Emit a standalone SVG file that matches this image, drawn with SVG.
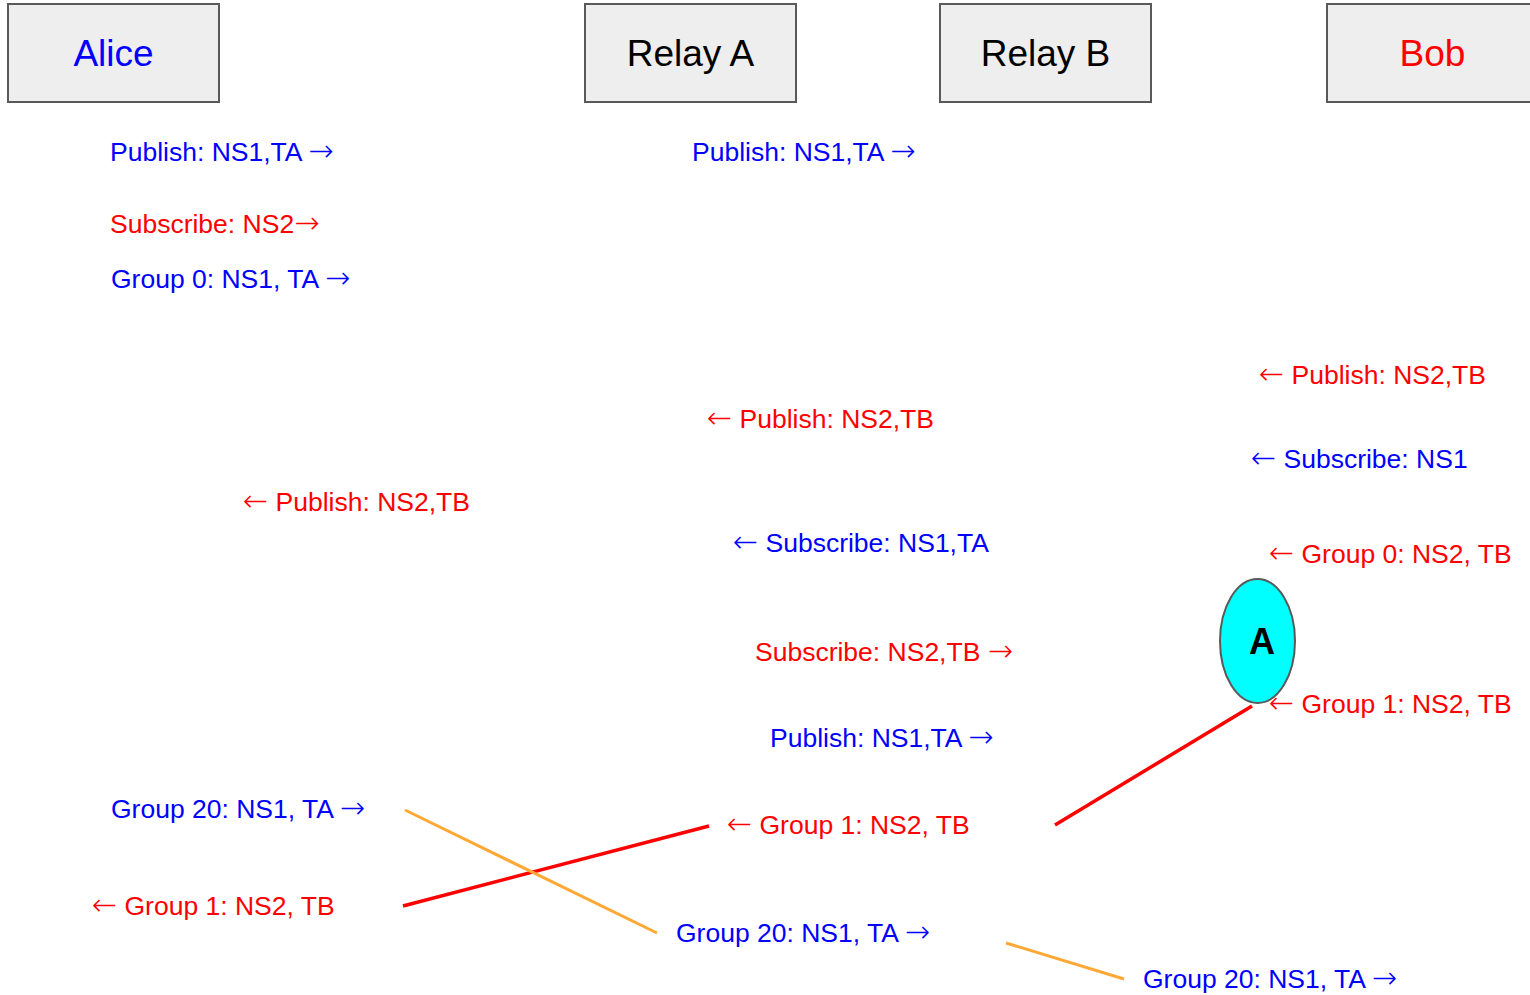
<svg xmlns="http://www.w3.org/2000/svg" width="1530" height="995" viewBox="0 0 1530 995">
<style>
.box{fill:#eeeeee;stroke:#595959;stroke-width:2}
.h{font-family:"Liberation Sans",Arial,sans-serif;font-size:37px;text-anchor:middle}
.t{font-family:"Liberation Sans",Arial,sans-serif;font-size:26.5px}
.ar{font-family:"DejaVu Sans",sans-serif;font-weight:200;font-size:30px}
.b{fill:#0000ff}
.r{fill:#ff0000}
.lr{stroke:#ff0000;stroke-width:3.5;fill:none}
.lo{stroke:#ffa836;stroke-width:3;fill:none}
</style>
<rect width="1530" height="995" fill="#ffffff"/>
<g id="alice"><rect class="box" x="8" y="4" width="211" height="98"/><text class="h b" x="113.5" y="66">Alice</text></g>
<g id="relayA"><rect class="box" x="585" y="4" width="211" height="98"/><text class="h" x="690.5" y="66" fill="#000">Relay A</text></g>
<g id="relayB"><rect class="box" x="940" y="4" width="211" height="98"/><text class="h" x="1045.5" y="66" fill="#000">Relay B</text></g>
<g id="bob"><rect class="box" x="1327" y="4" width="211" height="98"/><text class="h r" x="1432.5" y="66">Bob</text></g>
<g id="nodeA"><ellipse cx="1257.5" cy="641" rx="37.5" ry="62" fill="#00ffff" stroke="#595959" stroke-width="2"/><text x="1262" y="654" font-family="Liberation Sans,Arial,sans-serif" font-size="36" font-weight="bold" text-anchor="middle" fill="#000">A</text></g>
<g id="connectors">
<line class="lr" x1="1252" y1="706" x2="1055" y2="825"/>
<line class="lr" x1="709" y1="826" x2="403" y2="906"/>
<line class="lo" x1="405" y1="810" x2="657" y2="933"/>
<line class="lo" x1="1006" y1="943" x2="1124" y2="979"/>
</g>
<g id="labels">
<text class="t b" x="110" y="161">Publish: NS1,TA <tspan class="ar">→</tspan></text>
<text class="t r" x="110" y="233">Subscribe: NS2<tspan class="ar">→</tspan></text>
<text class="t b" x="111" y="288">Group 0: NS1, TA <tspan class="ar">→</tspan></text>
<text class="t b" x="692" y="161">Publish: NS1,TA <tspan class="ar">→</tspan></text>
<text class="t r" x="1259" y="384"><tspan class="ar">←</tspan> Publish: NS2,TB</text>
<text class="t r" x="707" y="428"><tspan class="ar">←</tspan> Publish: NS2,TB</text>
<text class="t b" x="1251" y="468"><tspan class="ar">←</tspan> Subscribe: NS1</text>
<text class="t r" x="243" y="511"><tspan class="ar">←</tspan> Publish: NS2,TB</text>
<text class="t b" x="733" y="552"><tspan class="ar">←</tspan> Subscribe: NS1,TA</text>
<text class="t r" x="1269" y="563"><tspan class="ar">←</tspan> Group 0: NS2, TB</text>
<text class="t r" x="755" y="661">Subscribe: NS2,TB <tspan class="ar">→</tspan></text>
<text class="t r" x="1269" y="713"><tspan class="ar">←</tspan> Group 1: NS2, TB</text>
<text class="t b" x="770" y="747">Publish: NS1,TA <tspan class="ar">→</tspan></text>
<text class="t b" x="111" y="818">Group 20: NS1, TA <tspan class="ar">→</tspan></text>
<text class="t r" x="727" y="834"><tspan class="ar">←</tspan> Group 1: NS2, TB</text>
<text class="t r" x="92" y="915"><tspan class="ar">←</tspan> Group 1: NS2, TB</text>
<text class="t b" x="676" y="942">Group 20: NS1, TA <tspan class="ar">→</tspan></text>
<text class="t b" x="1143" y="988">Group 20: NS1, TA <tspan class="ar">→</tspan></text>
</g>
</svg>
